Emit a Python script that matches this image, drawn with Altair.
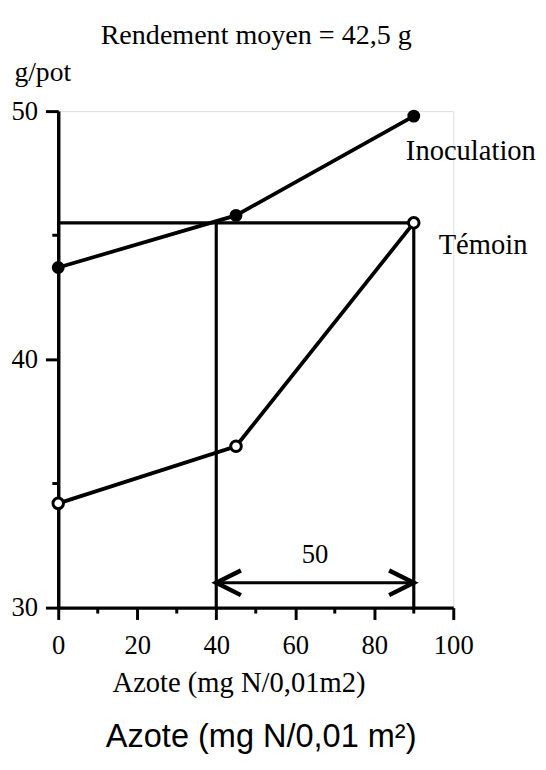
import altair as alt
import pandas as pd

# ---- data ----
azote = [0, 45, 90]
inoculation = [43.7, 45.8, 49.8]
temoin = [34.2, 36.5, 45.5]

x_major = [0, 20, 40, 60, 80, 100]
x_minor = [10, 30, 50, 70, 90]
y_major = [30, 40, 50]
y_minor = [35, 45]

seuil = 45.5            # rendement du témoin à 90
ref_h_x = [0, 90]
ref_v_x = [40, 90]
arrow_y = 31
arrow_x = [40, 90]

series_names = ["Inoculation", "Témoin"]
series_label_x = [88, 96.3]
series_label_y = [48.4, 44.6]
arrow_label = "50"
arrow_label_x = [65]
arrow_label_y = [32.1]

title_text = "Rendement moyen = 42,5 g"
y_title = "g/pot"
x_title = "Azote (mg N/0,01m2)"
bottom_label = "Azote (mg N/0,01 m²)"

SERIF = "Liberation Serif"
SANS = "Liberation Sans"

inoc_df = pd.DataFrame({"x": azote, "y": inoculation})
tem_df = pd.DataFrame({"x": azote, "y": temoin})
xminor_df = pd.DataFrame({"x": x_minor, "y": [30] * len(x_minor)})
yminor_df = pd.DataFrame({"x": [0] * len(y_minor), "y": y_minor})
hline_df = pd.DataFrame({"x": [ref_h_x[0]], "x2": [ref_h_x[1]], "y": [seuil]})
vline_df = pd.DataFrame({"x": ref_v_x, "y": [30] * len(ref_v_x), "y2": [seuil] * len(ref_v_x)})
arrow_df = pd.DataFrame({"x": [arrow_x[0]], "x2": [arrow_x[1]], "y": [arrow_y]})
labels_df = pd.DataFrame({"x": series_label_x, "y": series_label_y, "t": series_names})
alabel_df = pd.DataFrame({"x": arrow_label_x, "y": arrow_label_y, "t": [arrow_label]})
title_df = pd.DataFrame({"t": [title_text]})
bottom_df = pd.DataFrame({"t": [bottom_label]})

xscale = alt.Scale(domain=[0, 100], nice=False, zero=False)
yscale = alt.Scale(domain=[30, 50], nice=False, zero=False)

common_axis = dict(
    grid=False, domainColor="black", domainWidth=3.5, tickColor="black",
    tickWidth=3, labelFont=SERIF, labelFontSize=27, labelColor="black",
    titleFont=SERIF, titleFontWeight="normal", titleColor="black",
)
x_axis = alt.Axis(values=x_major, title=x_title, tickSize=12, labelPadding=14,
                  labelFlush=False, titleFontSize=29, titleX=183, titleY=85,
                  titleBaseline="alphabetic", titleAlign="center", **common_axis)
y_axis = alt.Axis(values=y_major, title=y_title, tickSize=13, labelPadding=8,
                  titleAngle=0, titleAlign="left", titleBaseline="alphabetic",
                  titleFontSize=28, titleX=-45, titleY=-31, **common_axis)


def X(f="x"):
    return alt.X(f"{f}:Q", scale=xscale, axis=x_axis)


def Y(f="y"):
    return alt.Y(f"{f}:Q", scale=yscale, axis=y_axis)


inoc_line = alt.Chart(inoc_df).mark_line(color="black", strokeWidth=3.8).encode(x=X(), y=Y())
tem_line = alt.Chart(tem_df).mark_line(color="black", strokeWidth=3.8).encode(x=X(), y=Y())

hline = alt.Chart(hline_df).mark_rule(color="black", strokeWidth=3.2).encode(
    x=X(), x2="x2:Q", y=Y())
vlines = alt.Chart(vline_df).mark_rule(color="black", strokeWidth=3.2).encode(
    x=X(), y=Y(), y2="y2:Q")
shaft = alt.Chart(arrow_df).mark_rule(color="black", strokeWidth=3).encode(
    x=X(), x2="x2:Q", y=Y())
head_left = alt.Chart(arrow_df).mark_point(
    shape="M2,-1L0,0L2,1", filled=False, stroke="black", strokeWidth=4.5, size=625, opacity=1
).encode(x=X(), y=Y())
head_right = alt.Chart(arrow_df).mark_point(
    shape="M-2,-1L0,0L-2,1", filled=False, stroke="black", strokeWidth=4.5, size=625, opacity=1
).encode(x=X("x2"), y=Y())

xminor = alt.Chart(xminor_df).mark_tick(
    orient="vertical", size=6, thickness=3, yOffset=3, color="black", opacity=1
).encode(x=X(), y=Y())
yminor = alt.Chart(yminor_df).mark_tick(
    orient="horizontal", size=6, thickness=3, xOffset=-3, color="black", opacity=1
).encode(x=X(), y=Y())

inoc_pts = alt.Chart(inoc_df).mark_point(
    shape="circle", filled=True, color="black", size=170, opacity=1
).encode(x=X(), y=Y())
tem_pts = alt.Chart(tem_df).mark_point(
    shape="circle", filled=True, fill="white", stroke="black", strokeWidth=3,
    size=115, opacity=1
).encode(x=X(), y=Y())

labels = alt.Chart(labels_df).mark_text(
    align="left", baseline="middle", font=SERIF, fontSize=29, color="black"
).encode(x=X(), y=Y(), text="t:N")
alabel = alt.Chart(alabel_df).mark_text(
    align="center", baseline="middle", font=SERIF, fontSize=27, color="black"
).encode(x=X(), y=Y(), text="t:N")
title = alt.Chart(title_df).mark_text(
    align="center", baseline="alphabetic", font=SERIF, fontSize=28.5, color="black"
).encode(x=alt.value(201), y=alt.value(-68), text="t:N")
bottom = alt.Chart(bottom_df).mark_text(
    align="center", baseline="middle", font=SANS, fontSize=33, color="black"
).encode(x=alt.value(206), y=alt.value(635), text="t:N")

chart = alt.layer(
    inoc_line, hline, vlines, shaft, head_left, head_right, xminor, yminor,
    tem_line, inoc_pts, tem_pts, labels, alabel, title, bottom
).properties(
    width=401, height=504,
    autosize=alt.AutoSizeParams(type="none"),
    padding={"left": 51, "top": 99, "right": 86, "bottom": 150},
).configure_view(stroke="transparent", strokeWidth=0).configure(background="white")

chart.save("out.html", embed_options={"renderer": "svg", "actions": False})
